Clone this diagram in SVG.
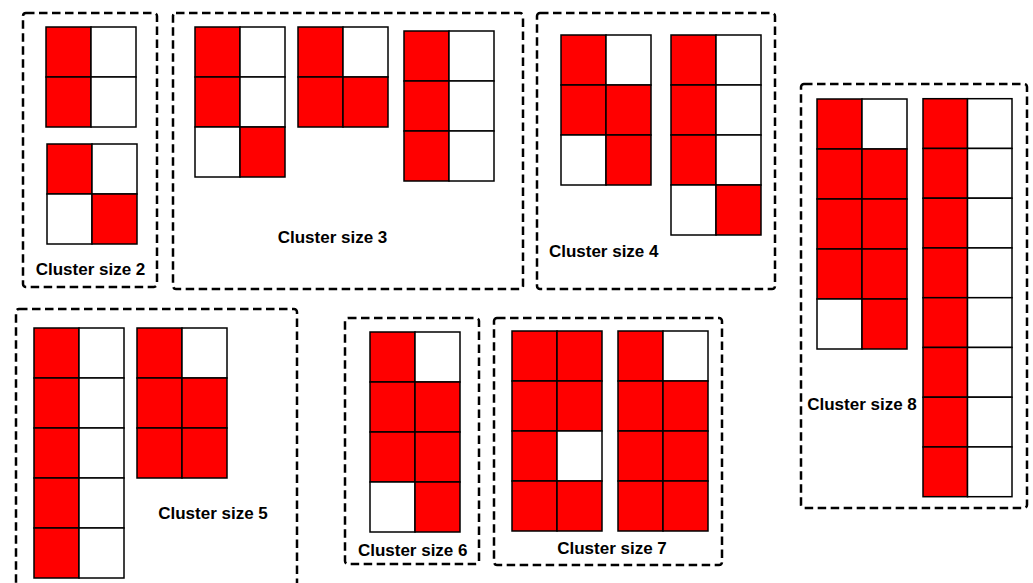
<svg xmlns="http://www.w3.org/2000/svg" width="1033" height="583" viewBox="0 0 1033 583">
<style>
.box{fill:none;stroke:#000;stroke-width:2.5;stroke-dasharray:8.5 4.5}
.r{fill:#ff0000;stroke:#000;stroke-width:1.5}
.w{fill:#fff;stroke:#000;stroke-width:1.5}
.lbl{font-family:"Liberation Sans",Arial,sans-serif;font-weight:bold;font-size:17px;fill:#000;text-anchor:middle}
</style>
<rect width="1033" height="583" fill="#fff"/>
<g id="cluster2">
<rect class="box" x="23" y="13" width="134" height="274" rx="3"/>
<g id="c2a">
<rect class="r" x="46" y="27" width="45" height="50"/><rect class="w" x="91" y="27" width="45" height="50"/>
<rect class="r" x="46" y="77" width="45" height="50"/><rect class="w" x="91" y="77" width="45" height="50"/>
</g>
<g id="c2b">
<rect class="r" x="47" y="144" width="45" height="50"/><rect class="w" x="92" y="144" width="45" height="50"/>
<rect class="w" x="47" y="194" width="45" height="50"/><rect class="r" x="92" y="194" width="45" height="50"/>
</g>
<text class="lbl" x="90.5" y="275">Cluster size 2</text>
</g>
<g id="cluster3">
<rect class="box" x="173" y="13" width="350" height="276" rx="3"/>
<g id="c3a">
<rect class="r" x="195" y="27" width="45" height="50"/><rect class="w" x="240" y="27" width="45" height="50"/>
<rect class="r" x="195" y="77" width="45" height="50"/><rect class="w" x="240" y="77" width="45" height="50"/>
<rect class="w" x="195" y="127" width="45" height="50"/><rect class="r" x="240" y="127" width="45" height="50"/>
</g>
<g id="c3b">
<rect class="r" x="298" y="27" width="45" height="50"/><rect class="w" x="343" y="27" width="45" height="50"/>
<rect class="r" x="298" y="77" width="45" height="50"/><rect class="r" x="343" y="77" width="45" height="50"/>
</g>
<g id="c3c">
<rect class="r" x="404" y="31" width="45" height="50"/><rect class="w" x="449" y="31" width="45" height="50"/>
<rect class="r" x="404" y="81" width="45" height="50"/><rect class="w" x="449" y="81" width="45" height="50"/>
<rect class="r" x="404" y="131" width="45" height="50"/><rect class="w" x="449" y="131" width="45" height="50"/>
</g>
<text class="lbl" x="332.5" y="243">Cluster size 3</text>
</g>
<g id="cluster4">
<rect class="box" x="537" y="13" width="238" height="276" rx="3"/>
<g id="c4a">
<rect class="r" x="561" y="35" width="45" height="50"/><rect class="w" x="606" y="35" width="45" height="50"/>
<rect class="r" x="561" y="85" width="45" height="50"/><rect class="r" x="606" y="85" width="45" height="50"/>
<rect class="w" x="561" y="135" width="45" height="50"/><rect class="r" x="606" y="135" width="45" height="50"/>
</g>
<g id="c4b">
<rect class="r" x="671" y="35" width="45" height="50"/><rect class="w" x="716" y="35" width="45" height="50"/>
<rect class="r" x="671" y="85" width="45" height="50"/><rect class="w" x="716" y="85" width="45" height="50"/>
<rect class="r" x="671" y="135" width="45" height="50"/><rect class="w" x="716" y="135" width="45" height="50"/>
<rect class="w" x="671" y="185" width="45" height="50"/><rect class="r" x="716" y="185" width="45" height="50"/>
</g>
<text class="lbl" x="603.7" y="256.7">Cluster size 4</text>
</g>
<g id="cluster8">
<rect class="box" x="801" y="84" width="226" height="424" rx="3"/>
<g id="c8a">
<rect class="r" x="817" y="99" width="45" height="50"/><rect class="w" x="862" y="99" width="45" height="50"/>
<rect class="r" x="817" y="149" width="45" height="50"/><rect class="r" x="862" y="149" width="45" height="50"/>
<rect class="r" x="817" y="199" width="45" height="50"/><rect class="r" x="862" y="199" width="45" height="50"/>
<rect class="r" x="817" y="249" width="45" height="50"/><rect class="r" x="862" y="249" width="45" height="50"/>
<rect class="w" x="817" y="299" width="45" height="50"/><rect class="r" x="862" y="299" width="45" height="50"/>
</g>
<g id="c8b">
<rect class="r" x="923" y="98.7" width="44.5" height="49.75"/><rect class="w" x="967.5" y="98.7" width="44.5" height="49.75"/>
<rect class="r" x="923" y="148.45" width="44.5" height="49.75"/><rect class="w" x="967.5" y="148.45" width="44.5" height="49.75"/>
<rect class="r" x="923" y="198.2" width="44.5" height="49.75"/><rect class="w" x="967.5" y="198.2" width="44.5" height="49.75"/>
<rect class="r" x="923" y="247.95" width="44.5" height="49.75"/><rect class="w" x="967.5" y="247.95" width="44.5" height="49.75"/>
<rect class="r" x="923" y="297.7" width="44.5" height="49.75"/><rect class="w" x="967.5" y="297.7" width="44.5" height="49.75"/>
<rect class="r" x="923" y="347.45" width="44.5" height="49.75"/><rect class="w" x="967.5" y="347.45" width="44.5" height="49.75"/>
<rect class="r" x="923" y="397.2" width="44.5" height="49.75"/><rect class="w" x="967.5" y="397.2" width="44.5" height="49.75"/>
<rect class="r" x="923" y="446.95" width="44.5" height="49.75"/><rect class="w" x="967.5" y="446.95" width="44.5" height="49.75"/>
</g>
<text class="lbl" x="862" y="410">Cluster size 8</text>
</g>
<g id="cluster5">
<rect class="box" x="16" y="309" width="281" height="282" rx="3"/>
<g id="c5a">
<rect class="r" x="34" y="328" width="45" height="50"/><rect class="w" x="79" y="328" width="45" height="50"/>
<rect class="r" x="34" y="378" width="45" height="50"/><rect class="w" x="79" y="378" width="45" height="50"/>
<rect class="r" x="34" y="428" width="45" height="50"/><rect class="w" x="79" y="428" width="45" height="50"/>
<rect class="r" x="34" y="478" width="45" height="50"/><rect class="w" x="79" y="478" width="45" height="50"/>
<rect class="r" x="34" y="528" width="45" height="50"/><rect class="w" x="79" y="528" width="45" height="50"/>
</g>
<g id="c5b">
<rect class="r" x="137" y="328" width="45" height="50"/><rect class="w" x="182" y="328" width="45" height="50"/>
<rect class="r" x="137" y="378" width="45" height="50"/><rect class="r" x="182" y="378" width="45" height="50"/>
<rect class="r" x="137" y="428" width="45" height="50"/><rect class="r" x="182" y="428" width="45" height="50"/>
</g>
<text class="lbl" x="213" y="519">Cluster size 5</text>
</g>
<g id="cluster6">
<rect class="box" x="345" y="318" width="134" height="246" rx="3"/>
<g id="c6a">
<rect class="r" x="370" y="332" width="45" height="50"/><rect class="w" x="415" y="332" width="45" height="50"/>
<rect class="r" x="370" y="382" width="45" height="50"/><rect class="r" x="415" y="382" width="45" height="50"/>
<rect class="r" x="370" y="432" width="45" height="50"/><rect class="r" x="415" y="432" width="45" height="50"/>
<rect class="w" x="370" y="482" width="45" height="50"/><rect class="r" x="415" y="482" width="45" height="50"/>
</g>
<text class="lbl" x="412.7" y="555.7">Cluster size 6</text>
</g>
<g id="cluster7">
<rect class="box" x="494" y="318" width="228" height="247" rx="3"/>
<g id="c7a">
<rect class="r" x="512" y="331" width="45" height="50"/><rect class="r" x="557" y="331" width="45" height="50"/>
<rect class="r" x="512" y="381" width="45" height="50"/><rect class="r" x="557" y="381" width="45" height="50"/>
<rect class="r" x="512" y="431" width="45" height="50"/><rect class="w" x="557" y="431" width="45" height="50"/>
<rect class="r" x="512" y="481" width="45" height="50"/><rect class="r" x="557" y="481" width="45" height="50"/>
</g>
<g id="c7b">
<rect class="r" x="618" y="331" width="45" height="50"/><rect class="w" x="663" y="331" width="45" height="50"/>
<rect class="r" x="618" y="381" width="45" height="50"/><rect class="r" x="663" y="381" width="45" height="50"/>
<rect class="r" x="618" y="431" width="45" height="50"/><rect class="r" x="663" y="431" width="45" height="50"/>
<rect class="r" x="618" y="481" width="45" height="50"/><rect class="r" x="663" y="481" width="45" height="50"/>
</g>
<text class="lbl" x="612" y="554.3">Cluster size 7</text>
</g>
<g id="connectors"/>
</svg>
